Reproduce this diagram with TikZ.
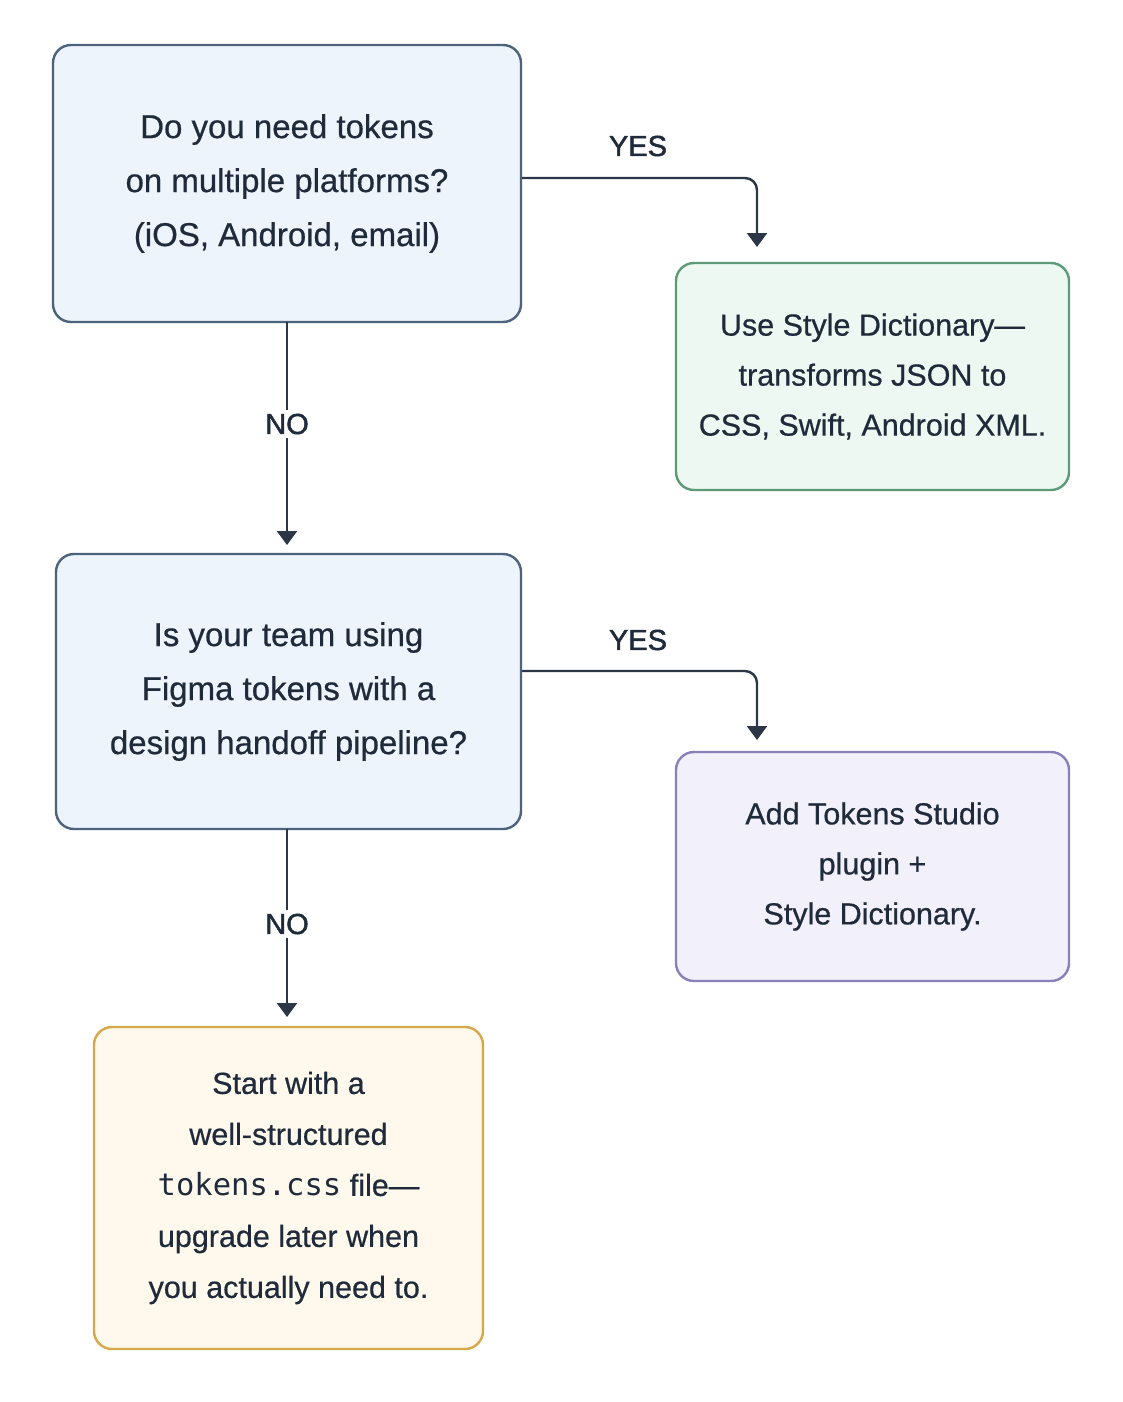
\documentclass[tikz,border=0pt]{standalone}
\usepackage{fontspec}
\setmainfont{Liberation Sans}[FakeBold=0.6]
\newfontfamily\lblfont{Liberation Sans}[FakeBold=1.6]
\setmonofont{DejaVu Sans Mono}
\usetikzlibrary{arrows.meta}
\definecolor{txt}{HTML}{1F2A3A}
\definecolor{arr}{HTML}{2B3646}
\definecolor{qfill}{HTML}{EEF4FC}
\definecolor{qline}{HTML}{4D627C}
\definecolor{gfill}{HTML}{EEF8F2}
\definecolor{gline}{HTML}{5C9A78}
\definecolor{pfill}{HTML}{F2F0FA}
\definecolor{pline}{HTML}{8A80B8}
\definecolor{yfill}{HTML}{FEF9EC}
\definecolor{yline}{HTML}{D6A84C}
\tikzset{
  box/.style={draw, line width=2.4pt, rounded corners=18pt, align=center, text=txt, inner sep=0pt},
  qbox/.style={box, fill=qfill, draw=qline, font=\fontsize{33}{54}\selectfont},
  abox/.style={box, font=\fontsize{30.5}{50}\selectfont},
  conn/.style={draw=arr, line width=2.4pt, -{Triangle[width=20pt,length=14pt]}},
  lbl/.style={text=txt, font=\lblfont\fontsize{29}{30}\selectfont, inner sep=4pt}
}
\begin{document}
\begin{tikzpicture}[x=1pt,y=-1pt]
\useasboundingbox[fill=white] (0,0) rectangle (1122,1402);
\node[qbox, minimum width=468pt, minimum height=277pt] (q1) at (287,183.5)
  {Do you need tokens\\on multiple platforms?\\(iOS, Android, email)};
\node[abox, fill=gfill, draw=gline, minimum width=393pt, minimum height=227pt] (a1) at (872.5,376.5)
  {Use Style Dictionary—\\transforms JSON to\\CSS, Swift, Android XML.};
\node[qbox, minimum width=465pt, minimum height=275pt] (q2) at (288.5,691.5)
  {Is your team using\\Figma tokens with a\\design handoff pipeline?};
\node[abox, fill=pfill, draw=pline, minimum width=393pt, minimum height=229pt] (a2) at (872.5,866.5)
  {Add Tokens Studio\\plugin +\\Style Dictionary.};
\node[abox, fill=yfill, draw=yline, minimum width=389pt, minimum height=322pt, font=\fontsize{30.5}{51}\selectfont] (a3) at (288.5,1188)
  {Start with a\\well-structured\\\texttt{tokens.css} file—\\upgrade later when\\you actually need to.};
\coordinate (t1) at (757,247);
\coordinate (t2) at (757,740);
\coordinate (s1) at (287,322);
\coordinate (e1) at (287,545);
\coordinate (s2) at (287,829);
\coordinate (e2) at (287,1017);
\draw[conn, rounded corners=12pt] ([yshift=5.5pt]q1.east) -| (t1);
\draw[conn, rounded corners=12pt] ([yshift=20.5pt]q2.east) -| (t2);
\node[lbl] (y1) at (638,146) {YES};
\node[lbl] (y2) at (638,640) {YES};
\draw[conn] (s1) -- (e1);
\draw[conn] (s2) -- (e2);
\node[lbl, fill=white] (n1) at (287,424) {NO};
\node[lbl, fill=white] (n2) at (287,924) {NO};
\end{tikzpicture}
\end{document}
